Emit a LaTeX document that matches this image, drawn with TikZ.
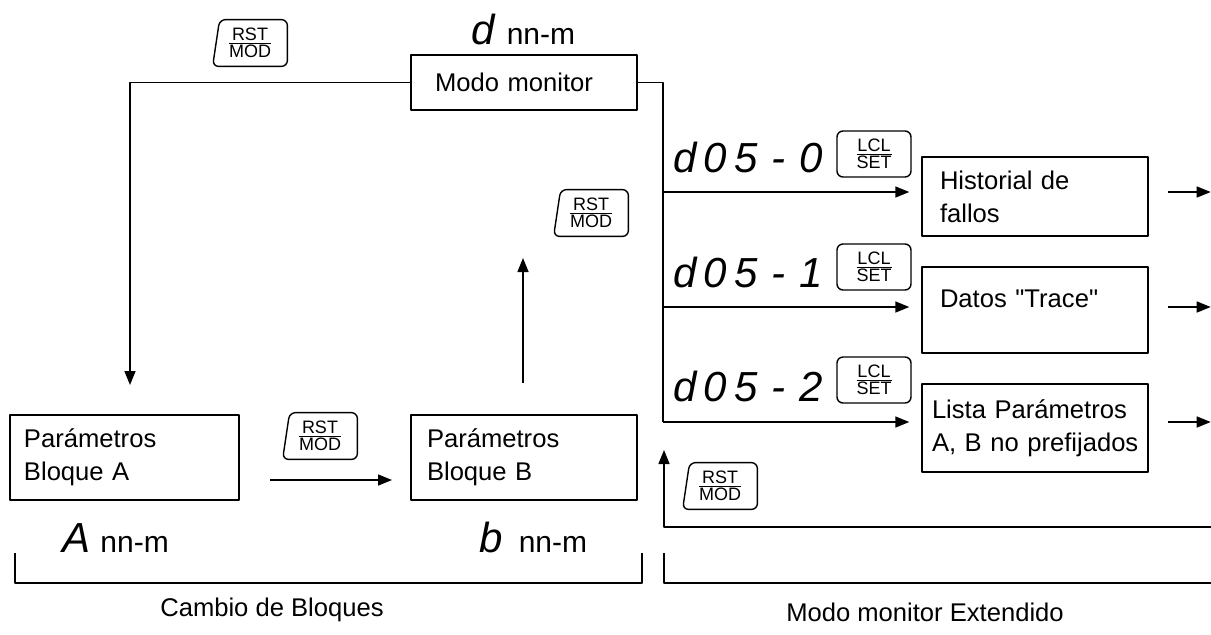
\documentclass[tikz,border=0pt]{standalone}
\usepackage{fontspec}
\setmainfont[Ligatures=TeXOff]{Liberation Sans}
\newfontfamily\segfont[LetterSpace=17]{Liberation Sans}
\usetikzlibrary{arrows.meta}

% seven segment style characters
\newcommand{\seg}[1]{{\segfont\itshape\fontsize{21}{21}\selectfont #1}}
\newcommand{\segdash}{\hspace{7pt}-\hspace{7pt}}
% key caps
\newcommand{\keyfrac}[2]{$\frac{\mbox{#1}}{\mbox{#2}}$}
\newcommand{\rstkey}[2]{%
  \node[key] (#1) at (#2) {\keyfrac{RST}{MOD}};
  \draw[keyframe] ([xshift=3.5pt]#1.north west) -- (#1.north east)
    -- (#1.south east) -- (#1.south west) -- cycle;}

\begin{document}
\begin{tikzpicture}[x=0.5pt, y=-0.5pt, line join=round, >={Triangle[length=7pt,width=5.5pt]},
  font=\fontsize{12.8}{16.5}\selectfont,
  box/.style={draw, line width=0.7pt, inner ysep=0pt, align=left},
  wire/.style={line width=0.75pt},
  key/.style={inner sep=0pt, minimum width=37pt, minimum height=23pt,
    font=\fontsize{9}{9}\selectfont},
  keyframe/.style={line width=0.7pt, rounded corners=3pt},
  lclkey/.style={key, draw, line width=0.7pt, rounded corners=3pt},
  nnm/.style={anchor=base west, inner sep=0pt, font=\fontsize{15}{15}\selectfont}]
  \useasboundingbox (0,0) rectangle (1211,634);

  % Modo monitor
  \node[box, inner xsep=12pt, text width=89pt, minimum height=27.5pt] (mon) at (524,82.5) {Modo monitor};
  \node[nnm] (monlbl) at (471,44) {\seg{d}\hspace{6pt}nn-m};

  % bloques A y B
  \node[box, inner xsep=7pt, text width=100.5pt, minimum height=42.5pt] (blkA) at (124.5,457.5) {Parámetros\\Bloque A};
  \node[box, inner xsep=8pt, text width=97pt, minimum height=42.5pt] (blkB) at (524,457.5) {Parámetros\\Bloque B};
  \node[nnm] (blkAlbl) at (62,552) {\seg{A}\hspace{5pt}nn-m};
  \node[nnm] (blkBlbl) at (479,552) {\seg{b}\hspace{8pt}nn-m};

  % cambio de bloques
  \coordinate (loopL) at (130,385);
  \draw[wire, ->] (mon.west) -| (loopL);
  \rstkey{kTop}{250,43}
  \coordinate (upS) at (523,383);
  \coordinate (upT) at (523,258);
  \draw[wire, ->] (upS) -- (upT);
  \rstkey{kMid}{591,213}
  \coordinate (abS) at (270,480);
  \coordinate (abT) at (392,480);
  \draw[wire, ->] (abS) -- (abT);
  \rstkey{kLow}{320,436}

  % modo monitor extendido
  \node[box, inner xsep=9pt, text width=95pt, minimum height=39.5pt] (hist) at (1035,196.5) {Historial de\\fallos};
  \node[box, inner xsep=9pt, text width=95pt, minimum height=43pt, text height=20pt, text depth=23pt] (trace) at (1035,310) {Datos "Trace"};
  \node[box, inner xsep=5pt, text width=103pt, minimum height=44pt] (lista) at (1035,428) {\mbox{Lista Parámetros}\\\mbox{A, B no prefijados}};

  \coordinate (b0) at (663,192);
  \coordinate (b1) at (663,307);
  \coordinate (b2) at (663,422);
  \draw[wire] (mon.east) -| (b2);
  \draw[wire, ->, shorten >=6pt] (b0) -- (hist.west |- b0);
  \draw[wire, ->, shorten >=6pt] (b1) -- (trace.west |- b1);
  \draw[wire, ->, shorten >=6pt] (b2) -- (lista.west |- b2);
  \draw[wire, ->] ([xshift=9.5pt]hist.east |- b0) -- ++(43,0);
  \draw[wire, ->] ([xshift=9.5pt]trace.east |- b1) -- ++(43,0);
  \draw[wire, ->] ([xshift=9.5pt]lista.east |- b2) -- ++(43,0);

  \node[anchor=base west, inner sep=0pt] (seg0) at (673,172) {\seg{d05\segdash 0}};
  \node[anchor=base west, inner sep=0pt] (seg1) at (673,287) {\seg{d05\segdash 1}};
  \node[anchor=base west, inner sep=0pt] (seg2) at (673,401) {\seg{d05\segdash 2}};
  \node[lclkey] (lcl0) at (874,154) {\keyfrac{LCL}{SET}};
  \node[lclkey] (lcl1) at (874,267) {\keyfrac{LCL}{SET}};
  \node[lclkey] (lcl2) at (874,380) {\keyfrac{LCL}{SET}};

  % retorno
  \coordinate (retR) at (1211,527);
  \coordinate (retT) at (664,450);
  \draw[wire, ->] (retR) -| (retT);
  \rstkey{kRet}{720,486}

  % llaves inferiores
  \draw[wire] (15,553) |- (642,583) -- (642,553);
  \draw[wire] (664,553) |- (1211,583);
  \node (cambio) at (272,610) {Cambio de Bloques};
  \node (extend) at (925,612) {Modo monitor Extendido};
\end{tikzpicture}
\end{document}
